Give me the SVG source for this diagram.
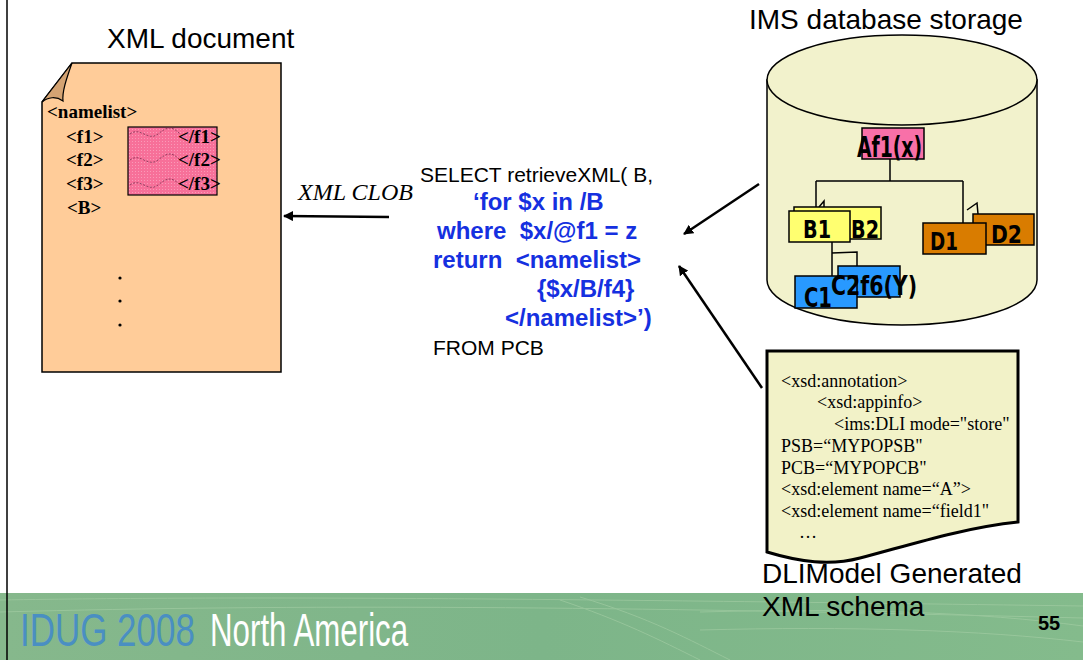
<svg xmlns="http://www.w3.org/2000/svg" width="1083" height="660" viewBox="0 0 1083 660">
  <style>
    .title { font-family: "Liberation Sans", Arial, sans-serif; font-size: 28px; fill: #000; }
    .tag { font-family: "Liberation Serif", "Times New Roman", serif; font-size: 19px; font-weight: bold; fill: #000; }
    .sql { font-family: "Liberation Sans", Arial, sans-serif; font-size: 21px; fill: #000; }
    .xq { font-family: "Liberation Sans", Arial, sans-serif; font-size: 24px; font-weight: bold; fill: #1530e0; }
    .xsd { font-family: "Liberation Serif", "Times New Roman", serif; font-size: 18px; fill: #000; }
    .seg { font-family: "DejaVu Sans Condensed", "DejaVu Sans", sans-serif; font-weight: bold; fill: #000; }
    .brand { font-family: "Liberation Sans", Arial, sans-serif; font-size: 46px; }
    .box { stroke: #000; stroke-width: 1.5; }
    .tree { fill: none; stroke: #000; stroke-width: 1.5; }
    .conn { fill: none; stroke: #000; stroke-width: 2.5; }
  </style>
  <defs>
    <marker id="arrow" viewBox="0 0 10 10" refX="9" refY="5" markerWidth="4" markerHeight="4" orient="auto">
      <path d="M0,0 L10,5 L0,10 Z" fill="#000"/>
    </marker>
    <pattern id="grid" width="3" height="3" patternUnits="userSpaceOnUse">
      <rect width="3" height="3" fill="#f77099"/>
      <rect width="1" height="1" fill="#fa9ab8"/>
    </pattern>
    <linearGradient id="banner" x1="0" y1="0" x2="1" y2="0">
      <stop offset="0" stop-color="#86b88c"/>
      <stop offset="0.5" stop-color="#7db589"/>
      <stop offset="1" stop-color="#84bb8c"/>
    </linearGradient>
  </defs>

  <rect width="1083" height="660" fill="#fff"/>

  <!-- footer banner -->
  <g id="banner-footer">
    <rect x="0" y="593" width="1083" height="67" fill="url(#banner)"/>
    <g fill="none" stroke="#a6cfa6" stroke-width="1" opacity="0.6">
      <path d="M0,600 C250,596 500,598 1083,606"/>
      <path d="M0,612 C300,604 600,606 1083,618"/>
      <path d="M560,600 C620,620 660,640 700,660"/>
      <path d="M580,597 C650,618 690,640 730,660"/>
      <path d="M700,612 C850,608 980,612 1083,626"/>
      <path d="M700,630 C850,626 980,630 1083,642"/>
    </g>
    <text class="brand" transform="translate(20,646) scale(0.76,1)" fill="#4a8fc2">IDUG 2008</text>
    <text class="brand" transform="translate(210,646) scale(0.68,1)" fill="#fff">North America</text>
    <text x="1038" y="630" font-family="Liberation Sans, Arial, sans-serif" font-size="20" font-weight="bold" fill="#000">55</text>
  </g>

  <!-- slide left edge -->
  <line x1="7" y1="0" x2="7" y2="660" stroke="#000" stroke-width="1.5"/>

  <!-- XML document -->
  <g id="xml-document">
    <text class="title" x="107" y="48">XML document</text>
    <path d="M72,63 L281,63 L281,372 L42,372 L42,102 Z" fill="#ffcc99" stroke="#000" stroke-width="1.5"/>
    <path d="M72,63 C66,80 62,92 63,101 C56,96 48,97 42,102 Z" fill="#d4a373" stroke="#000" stroke-width="1.2"/>
    <rect x="128" y="127" width="89" height="68" fill="url(#grid)" stroke="#000" stroke-width="1.2"/>
    <g fill="none" stroke="#7a3050" stroke-width="0.8" stroke-dasharray="2,1.5">
      <path d="M130,134 C140,126 148,142 158,134 S172,126 180,134"/>
      <path d="M130,160 C140,152 148,168 158,160 S172,152 180,160"/>
      <path d="M130,185 C140,177 148,193 158,185 S172,177 180,185"/>
    </g>
    <text class="tag" x="47" y="118">&lt;namelist&gt;</text>
    <text class="tag" x="66" y="143">&lt;f1&gt;</text>
    <text class="tag" x="66" y="166">&lt;f2&gt;</text>
    <text class="tag" x="66" y="190">&lt;f3&gt;</text>
    <text class="tag" x="67" y="214">&lt;B&gt;</text>
    <text class="tag" x="178" y="143">&lt;/f1&gt;</text>
    <text class="tag" x="178" y="166">&lt;/f2&gt;</text>
    <text class="tag" x="178" y="190">&lt;/f3&gt;</text>
    <circle cx="120" cy="278" r="1.6" fill="#000"/>
    <circle cx="120" cy="301" r="1.6" fill="#000"/>
    <circle cx="120" cy="325" r="1.6" fill="#000"/>
  </g>

  <!-- query -->
  <g id="query">
    <text class="sql" x="420" y="182">SELECT retrieveXML( B,</text>
    <text class="xq" x="473" y="210">‘for $x in /B</text>
    <text class="xq" x="437" y="239" xml:space="preserve">where  $x/@f1 = z</text>
    <text class="xq" x="433" y="268" xml:space="preserve">return  &lt;namelist&gt;</text>
    <text class="xq" x="537" y="297">{$x/B/f4}</text>
    <text class="xq" x="505" y="326">&lt;/namelist&gt;’)</text>
    <text class="sql" x="433" y="355">FROM PCB</text>
  </g>

  <!-- IMS database -->
  <g id="ims-database">
    <text class="title" x="749" y="29">IMS database storage</text>
    <path d="M767,80 L767,280 A135,45 0 0 0 1037,280 L1037,80 Z" fill="#f2f2cc" stroke="#000" stroke-width="1.5"/>
    <ellipse cx="902" cy="80" rx="135" ry="45" fill="#f2f2cc" stroke="#000" stroke-width="1.5"/>

    <g class="tree">
      <path d="M890,159 L890,181 M816,181 L963,181 M816,181 L816,210 M963,181 L963,223"/>
      <path d="M819,207 L824,201 L824,208"/>
      <path d="M967,210 L977,203 L978,214"/>
      <path d="M832,242 L832,276 M832,253 L857,252 L857,266"/>
    </g>

    <rect class="box" x="862" y="128" width="62" height="31" fill="#f870a8"/>
    <text class="seg" x="857" y="157" font-size="28" textLength="65" lengthAdjust="spacingAndGlyphs">Af1(x)</text>

    <rect class="box" x="794" y="207" width="87" height="32" fill="#ffff70"/>
    <rect class="box" x="789" y="211" width="61" height="31" fill="#ffff70"/>
    <text class="seg" x="803" y="238" font-size="25" textLength="28" lengthAdjust="spacingAndGlyphs">B1</text>
    <text class="seg" x="851" y="238" font-size="25" textLength="28" lengthAdjust="spacingAndGlyphs">B2</text>

    <rect class="box" x="973" y="214" width="61" height="31" fill="#d97c00"/>
    <rect class="box" x="923" y="223" width="63" height="31" fill="#d97c00"/>
    <text class="seg" x="930" y="250" font-size="25" textLength="28" lengthAdjust="spacingAndGlyphs">D1</text>
    <text class="seg" x="991" y="243" font-size="25" textLength="31" lengthAdjust="spacingAndGlyphs">D2</text>

    <rect class="box" x="838" y="266" width="62" height="31" fill="#2899ff"/>
    <rect class="box" x="795" y="276" width="62" height="32" fill="#2899ff"/>
    <text class="seg" x="804" y="307" font-size="27" textLength="28" lengthAdjust="spacingAndGlyphs">C1</text>
    <text class="seg" x="831" y="295" font-size="27" textLength="86" lengthAdjust="spacingAndGlyphs">C2f6(Y)</text>
  </g>

  <!-- generated XML schema -->
  <g id="xml-schema">
    <path d="M767,351 L1018,351 L1018,522 C960,528 900,548 860,558 C830,566 800,562 767,552 Z" fill="#f2f2c8" stroke="#000" stroke-width="3"/>
    <text class="xsd" x="781" y="387">&lt;xsd:annotation&gt;</text>
    <text class="xsd" x="817" y="408">&lt;xsd:appinfo&gt;</text>
    <text class="xsd" x="834" y="430">&lt;ims:DLI mode="store"</text>
    <text class="xsd" x="781" y="452">PSB=“MYPOPSB"</text>
    <text class="xsd" x="781" y="474">PCB=“MYPOPCB"</text>
    <text class="xsd" x="781" y="495">&lt;xsd:element name=“A”&gt;</text>
    <text class="xsd" x="781" y="517">&lt;xsd:element name=“field1"</text>
    <text class="xsd" x="799" y="538">…</text>
    <text class="title" x="762" y="583">DLIModel Generated</text>
    <text class="title" x="762" y="616">XML schema</text>
  </g>

  <!-- connectors -->
  <g id="connectors">
    <line class="conn" x1="389" y1="217" x2="284" y2="216" marker-end="url(#arrow)"/>
    <text x="298" y="200" font-family="Liberation Serif, Times New Roman, serif" font-size="24" font-style="italic" fill="#000">XML CLOB</text>
    <line class="conn" x1="759" y1="184" x2="684" y2="234" marker-end="url(#arrow)"/>
    <line class="conn" x1="762" y1="388" x2="679" y2="266" marker-end="url(#arrow)"/>
  </g>
</svg>
